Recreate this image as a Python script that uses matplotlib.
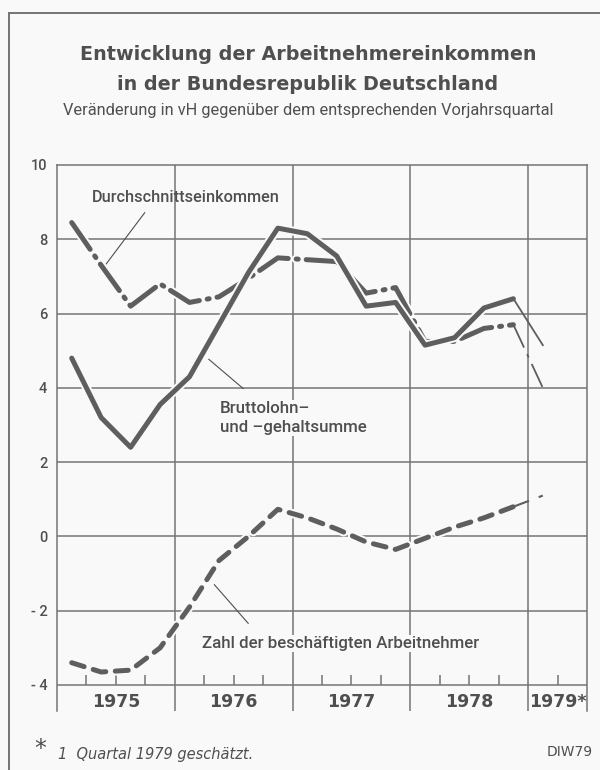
import numpy as np
import matplotlib
matplotlib.use("Agg")
import matplotlib.pyplot as plt
import matplotlib.patheffects as pe
from matplotlib.lines import Line2D

# Quartale 1975 Q1 .. 1979 Q1 (Mitte des Quartals)
years = [1975, 1976, 1977, 1978, 1979]
year_labels = ["1975", "1976", "1977", "1978", "1979*"]
n_quarters = 17
quarters = np.array([1975 + (i + 0.5) / 4 for i in range(n_quarters)])

# Veraenderung in vH gegenueber Vorjahresquartal
durchschnitt = [8.45, 7.3, 6.2, 6.8, 6.3, 6.45, 6.95, 7.5, 7.45, 7.4, 6.55, 6.7, 5.25, 5.25, 5.6, 5.7, 4.0]
bruttolohn = [4.8, 3.2, 2.4, 3.55, 4.3, 5.7, 7.1, 8.3, 8.15, 7.55, 6.2, 6.3, 5.15, 5.35, 6.15, 6.4, 5.15]
beschaeftigte = [-3.4, -3.65, -3.6, -3.0, -1.9, -0.65, 0.0, 0.73, 0.5, 0.2, -0.15, -0.35, -0.05, 0.25, 0.5, 0.8, 1.1]

y_ticks = [-4, -2, 0, 2, 4, 6, 8, 10]
y_ticklabels = ["- 4", "- 2", "0", "2", "4", "6", "8", "10"]

bg = "#f9f9f9"
line_col = "#5e5e5e"
grid_col = "#747474"
text_col = "#4f4f4f"
narrow = ["Roboto", "DejaVu Sans"]

fig = plt.figure(figsize=(6, 7.7), dpi=100, facecolor=bg)
ax = fig.add_axes([57 / 600, 1 - 711 / 770, 530 / 600, 546 / 770])
ax.set_facecolor(bg)
ax.set_xlim(1975, 1979.5)
ax.set_ylim(-4.7, 10)

# Gitter
for y in y_ticks[:-1]:
    ax.axhline(y, color=grid_col, lw=1.1, zorder=1)
for x in years[1:]:
    ax.axvline(x, color=grid_col, lw=1.1, zorder=1)
for s in ["left", "right", "top"]:
    ax.spines[s].set_color(grid_col)
    ax.spines[s].set_linewidth(1.1)
ax.spines["bottom"].set_visible(False)

# Quartalsstriche auf der -4 Linie
q_marks = [y + q / 4 for y in years for q in (1, 2, 3) if y + q / 4 < 1979.5]
ax.vlines(q_marks, -4, -3.72, color=grid_col, lw=1.1, zorder=1)

ax.set_yticks(y_ticks)
ax.set_yticklabels(y_ticklabels, fontsize=10.5, color=text_col, family=narrow,
                   fontweight="medium")
ax.tick_params(axis="y", length=0, pad=7)
ax.set_xticks([])

for y, lab in zip(years, year_labels):
    xc = y + 0.5 if y < 1979 else y + 0.25
    ax.text(xc, -4.47, lab, ha="center", va="center", fontsize=12.5,
            fontweight="bold", color=text_col)

outline = [pe.withStroke(linewidth=6.5, foreground=bg)]
lw = 3.6

# Durchschnittseinkommen (Strich-Punkt)
ax.plot(quarters[:-1], durchschnitt[:-1], color=line_col, lw=lw,
        dashes=(6.5, 1.6, 0.4, 1.6), dash_capstyle="round",
        solid_joinstyle="round", path_effects=outline, zorder=4)
ax.plot(quarters[-2:], durchschnitt[-2:], color=line_col, lw=1.3,
        dashes=(14, 4, 2, 4), zorder=4)

# Bruttolohn- und -gehaltsumme (durchgezogen)
ax.plot(quarters[:-1], bruttolohn[:-1], color=line_col, lw=lw,
        solid_joinstyle="round", solid_capstyle="round",
        path_effects=outline, zorder=5)
ax.plot(quarters[-2:], bruttolohn[-2:], color=line_col, lw=1.3, zorder=5)

# Zahl der beschaeftigten Arbeitnehmer (gestrichelt)
ax.plot(quarters[:-1], beschaeftigte[:-1], color=line_col, lw=lw,
        dashes=(2.6, 1.9), dash_capstyle="round",
        path_effects=outline, zorder=4)
ax.plot(quarters[-2:], beschaeftigte[-2:], color=line_col, lw=1.5,
        dashes=(8, 5), zorder=4)

# Beschriftungen
lab_kw = dict(fontweight="medium", color=text_col, family=narrow, zorder=6)
ax.text(1976.09, 9.13, "Durchschnittseinkommen", ha="center", va="center",
        fontsize=11.7, **lab_kw)
ax.annotate("", xy=(1975.39, 7.22), xytext=(1975.76, 8.78),
            arrowprops=dict(arrowstyle="-", color=text_col, lw=0.8))

ax.text(1976.38, 3.19, "Bruttolohn\u2013\nund \u2013gehaltsumme", ha="left", va="center",
        fontsize=12.2, linespacing=1.3,
        bbox=dict(facecolor=bg, edgecolor="none", pad=1), **lab_kw)
ax.annotate("", xy=(1976.27, 4.82), xytext=(1976.60, 3.93),
            arrowprops=dict(arrowstyle="-", color=text_col, lw=0.8))

ax.text(1976.23, -2.88, "Zahl der beschäftigten Arbeitnehmer", ha="left", va="center",
        fontsize=12.2, bbox=dict(facecolor=bg, edgecolor="none", pad=1), **lab_kw)
ax.annotate("", xy=(1976.32, -1.24), xytext=(1976.64, -2.40),
            arrowprops=dict(arrowstyle="-", color=text_col, lw=0.8))

# Titel
fig.text(0.513, 1 - 55 / 770, "Entwicklung der Arbeitnehmereinkommen", ha="center",
         va="center", fontsize=13.8, fontweight="bold", color=text_col)
fig.text(0.513, 1 - 85 / 770, "in der Bundesrepublik Deutschland", ha="center",
         va="center", fontsize=13.8, fontweight="bold", color=text_col)
fig.text(0.513, 1 - 111 / 770, "Veränderung in vH gegenüber dem entsprechenden Vorjahrsquartal",
         ha="center", va="center", fontsize=11.8, color=text_col, family=narrow)

# Fussnote
fig.text(40 / 600, 1 - 749 / 770, "*", ha="center", va="center", fontsize=17,
         color=text_col)
fig.text(58 / 600, 1 - 754 / 770, "1  Quartal 1979 geschätzt.", ha="left", va="center",
         fontsize=10.5, style="italic", color=text_col)
fig.text(593 / 600, 1 - 752 / 770, "DIW79", ha="right", va="center", fontsize=10,
         color=text_col)

# Rahmen
fig.add_artist(Line2D([9 / 600, 1.0], [1 - 13 / 770] * 2, transform=fig.transFigure,
                      color=grid_col, lw=1.4))
fig.add_artist(Line2D([9 / 600] * 2, [0, 1 - 13 / 770], transform=fig.transFigure,
                      color=grid_col, lw=1.4))

fig.savefig("out.png", dpi=100, facecolor=bg)
